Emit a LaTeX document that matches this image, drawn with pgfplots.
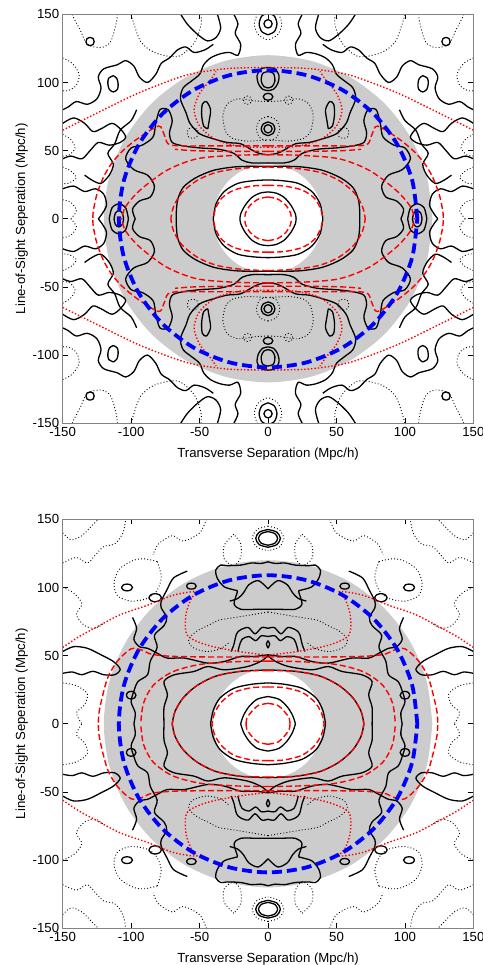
\documentclass[border=0pt]{standalone}
\usepackage{pgfplots}
\pgfplotsset{compat=1.18}
\usepackage{pgfplotstable}
\usepackage{fontspec}
\setmainfont{Liberation Sans}
\definecolor{ringgray}{RGB}{204,204,204}
\definecolor{frame}{RGB}{130,130,130}
\definecolor{cblue}{RGB}{0,0,255}
\definecolor{cred}{RGB}{255,0,0}
\tikzset{
 blk/.style={black, line width=1.3pt, smooth},
 blkd/.style={black, line width=0.9pt, dash pattern=on 0.9pt off 2.2pt, smooth},
 rdash/.style={cred, line width=1.4pt, dash pattern=on 6pt off 3pt, smooth},
 rdot/.style={cred, line width=1.4pt, dash pattern=on 1.4pt off 2pt, smooth},
 bdash/.style={cblue, line width=3.8pt, dash pattern=on 10pt off 5pt, smooth},
}
\newcommand{\mirror}[2]{%
  \addplot[#1] table {#2};
  \addplot[#1] table[x expr=-\thisrowno{0}] {#2};
  \addplot[#1] table[y expr=-\thisrowno{1}] {#2};
  \addplot[#1] table[x expr=-\thisrowno{0},y expr=-\thisrowno{1}] {#2};
}
% ---------- common circles ----------
\pgfplotstableread{
x y
120 0
115.91 31.06
103.92 60
84.85 84.85
60 103.92
31.06 115.91
0 120
-31.06 115.91
-60 103.92
-84.85 84.85
-103.92 60
-115.91 31.06
-120 0
-115.91 -31.06
-103.92 -60
-84.85 -84.85
-60 -103.92
-31.06 -115.91
0 -120
31.06 -115.91
60 -103.92
84.85 -84.85
103.92 -60
115.91 -31.06
120 0
}\DiskOuter
\pgfplotstableread{
x y
40 0
38.64 10.35
34.64 20
28.28 28.28
20 34.64
10.35 38.64
0 40
-10.35 38.64
-20 34.64
-28.28 28.28
-34.64 20
-38.64 10.35
-40 0
-38.64 -10.35
-34.64 -20
-28.28 -28.28
-20 -34.64
-10.35 -38.64
0 -40
10.35 -38.64
20 -34.64
28.28 -28.28
34.64 -20
38.64 -10.35
40 0
}\DiskInner
\pgfplotstableread{
x y
109 0
105.29 28.21
94.40 54.5
77.07 77.07
54.5 94.40
28.21 105.29
0 109
-28.21 105.29
-54.5 94.40
-77.07 77.07
-94.40 54.5
-105.29 28.21
-109 0
-105.29 -28.21
-94.40 -54.5
-77.07 -77.07
-54.5 -94.40
-28.21 -105.29
0 -109
28.21 -105.29
54.5 -94.40
77.07 -77.07
94.40 -54.5
105.29 -28.21
109 0
}\BlueCirc
% ---------- top panel ----------
\pgfplotstableread{
x y
0 19.7
6 18.8
12 15.5
17 9.5
20 3.5
20.5 0
}\TcA
\pgfplotstableread{
x y
0 28.5
10 28
22 26
32 20
38 11
40 0
}\TcB
\pgfplotstableread{
x y
0 38.5
12 38.5
25 38
40 35.5
53 30
62 23
66 14
67 5
67 0
}\TcC
\pgfplotstableread{
x y
0 41
12 41
19 43
25 48
36 51
50 52
62 53.5
70 56
72 63
70 72
73 80
79 80
82 70
84 60
92 54
100 52
104 44
98 36
88 32
83 24
86 16
94 13
99 7
97 0
}\TcD
\pgfplotstableread{
x y
0 47
6 47.8
11 50
20 55
30 56
40 58.7
50 62.4
57 70
60 78
64 88
62 96
56 101
50 106
47 113
42 118
35 121
28 122
22 120
20 128
24 136
22 143
25 150
}\TcE
\pgfplotstableread{
x y
44 66
47 68
48.5 76
48 84
45 86
42 80
43 72
44 66
}\TcF
\pgfplotstableread{
x y
0 146
2.1 145.1
3 143
2.1 140.9
0 140
}\TrA
\pgfplotstableread{
x y
0 151
4.6 148.7
6.5 143
4.6 137.3
0 135
}\TrB
\pgfplotstableread{
x y
0 155
7 151
10 143
7 135
0 131
}\TrC
\pgfplotstableread{
x y
0 69
2.1 68.1
3 66
2.1 63.9
0 63
}\TrD
\pgfplotstableread{
x y
0 71
3.5 69.5
5 66
3.5 62.5
0 61
}\TrE
\pgfplotstableread{
x y
0 75
6 72.5
8.5 66
6 59.5
0 57
}\TrF
\pgfplotstableread{
x y
0 92
2.5 91.3
3.5 89.5
2.5 87.7
0 87
}\TrG
\pgfplotstableread{
x y
0 111
5 110
8 105
7 99
4 95
0 94
}\TrH
\pgfplotstableread{
x y
0 108
4 106.5
5 101
3 97
0 96
}\TrHi
\pgfplotstableread{
x y
105.5 0
106.5 4.2
109 6
111.5 4.2
112.5 0
}\TrI
\pgfplotstableread{
x y
102 0
104 8
109 11
114 8
116 0
}\TrJ
\pgfplotstableread{
x y
113 105
116.5 103
117 99
116 95
113 93
110 95
109.5 99
110.5 103
113 105
}\TlA
\pgfplotstableread{
x y
130 133
132.2 132.2
133 130
132.2 127.8
130 127
127.8 127.8
127 130
127.8 132.2
130 133
}\TlB
\pgfplotstableread{
x y
40 128
46 124
54 122
60 126
66 124
72 118
78 114
82 106
88 100
94 104
98 112
104 116
110 113
120 110
124 104
122 96
125 88
132 84
140 86
146 82
150 80
}\TlC
\pgfplotstableread{
x y
150 70
142 74
134 70
128 64
122 66
114 70
108 66
104 60
108 56
116 54
124 56
130 50
136 44
144 46
150 44
}\TlD
\pgfplotstableread{
x y
150 22
142 24
134 20
126 22
120 18
118 10
121 4
124 0
}\TlE
\pgfplotstableread{
x y
37 150
34.6 140
38 133
44.3 130.5
51.6 135.4
58.9 142.7
63.8 150
}\TlF
\pgfplotstableread{
x y
96 80
100 72
108 65
112 55
117 48
113 40
116 32
122 26
128 28
134 32
}\TlH
\pgfplotstableread{
x y
0 86
10 86.5
22 88
30 84
33 75
31 64
26 59
15 57
0 58
}\TdA
\pgfplotstableread{
x y
55 67
58 66
59 63
58 60
55 59
52 60
51 63
52 66
55 67
}\TdB
\pgfplotstableread{
x y
15 90
17.1 89.1
18 87
17.1 84.9
15 84
12.9 84.9
12 87
12.9 89.1
15 90
}\TdC
\pgfplotstableread{
x y
49 150
49 142
54 129
66 119
83 122
93 130
98 143
100 150
}\TdD
\pgfplotstableread{
x y
110 150
111 143
115 130
122 125.6
132 128
137 138
142 147.5
143 150
}\TdE
\pgfplotstableread{
x y
150 118
143 114
138 106
140 98
146 94
150 94
}\TdF
\pgfplotstableread{
x y
150 38
144 35
140 30
146 26
150 26
}\TdG
\pgfplotstableread{
x y
150 14
144 12
140 6
144 0
}\TdH
\pgfplotstableread{
x y
150 62
144 58
141 52
145 47
150 46
}\TdJ
\pgfplotstableread{
x y
150 65
120 80
93 93
61 105
40 109
25 110.5
0 111
}\TqA
\pgfplotstableread{
x y
0 52.5
20 53
38 58
50 68
54 80
50 92
42 102
38 108
}\TqB
\pgfplotstableread{
x y
0 16
7 14.5
13 10
16.5 4
17 0
}\TrdA
\pgfplotstableread{
x y
0 24.5
12 24
25 21
34 15
38.5 7
40 0
}\TrdB
\pgfplotstableread{
x y
0 38
20 37
38 34
52 28
63 19
69 9
71 0
}\TrdC
\pgfplotstableread{
x y
0 47
25 46.5
52 44
74 35.5
93.5 21
104 9
107 0
}\TrdD
\pgfplotstableread{
x y
0 53.5
40 53.5
65 53.5
73 55
76 62
80 68
95 59
106 50
114 41
120 31
125 18
127.6 6
128 0
}\TrdE
\pgfplotstableread{
x y
0 49.5
30 49.5
55 50
68 51
}\TrdF
% ---------- bottom panel ----------
\pgfplotstableread{
x y
0 20
8 18
14 12.5
18 6
20 0
}\BcA
\pgfplotstableread{
x y
0 30
12 29
25 26
35 19
40 10
42 0
}\BcB
\pgfplotstableread{
x y
0 39.5
20 38.5
38 35
52 28
62 19
68 9
70 0
}\BcC
\pgfplotstableread{
x y
0 50.6
10 49.4
20 49.4
32 45.7
44 44.5
61 48.2
73.5 48.2
81 51.8
88 55.4
94 56.6
98 62
96 70
99 78
}\BcD
\pgfplotstableread{
x y
0 50
5 46
15 42
32 39.6
44 42
54 38.4
68.7 35.9
76 31
73.5 21.4
76 12
76 0
}\BcE
\pgfplotstableread{
x y
59 112
69 107
74 98
78 90
78 85
74 78
76 72
83 65
81 56
86 46
88 36
95 31
98 24
100 16
97 8
98 0
}\BcF
\pgfplotstableread{
x y
150 53
142 56.6
132 55.4
122 50.6
113 45.7
108 40
112 36
120 36
128 38.5
136 36
143 38
150 37
}\BcG
\pgfplotstableread{
x y
0 118.8
5.4 117.6
12 118
20 116.4
30 116
34.6 116.4
38.2 112.8
37 106.6
32 100.5
24 98
22.4 96.9
24.8 88
20 84
8 84
0 84
}\BcCr
\pgfplotstableread{
x y
0 99
7 105
14 102
18 96
22 92
28 90
}\BcCi
\pgfplotstableread{
x y
0 70
4.6 70.6
9.5 66
14.4 70.6
20 69
23 66
25 58
27 53
}\BcM
\pgfplotstableread{
x y
0 64
5 64.5
9 61
14 64
19 62
21 57
22 53
}\BcMi
\pgfplotstableread{
x y
0 61
1.2 58.5
0 55.5
}\BcS
\pgfplotstableread{
x y
107 100
105.8 101.8
103 102.5
100.2 101.8
99 100
100.2 98.2
103 97.5
105.8 98.2
107 100
}\BlA
\pgfplotstableread{
x y
87 92.5
85.7 94.6
82.5 95.5
79.3 94.6
78 92.5
79.3 90.4
82.5 89.5
85.7 90.4
87 92.5
}\BlB
\pgfplotstableread{
x y
59.5 101
58.5 102.6
56 103.2
53.5 102.6
52.5 101
53.5 99.4
56 98.8
58.5 99.4
59.5 101
}\BlC
\pgfplotstableread{
x y
103.5 21
102.5 23
100 23.8
97.5 23
96.5 21
97.5 19
100 18.2
102.5 19
103.5 21
}\BlD
\pgfplotstableread{
x y
0 141
5 139.5
7 136
5 132.5
0 131
}\BrA
\pgfplotstableread{
x y
0 142.5
6.4 140.6
9 136
6.4 131.4
0 129.5
}\BrB
\pgfplotstableread{
x y
0 145
8 142.5
11.5 136
8 129.5
0 127
}\BrC
\pgfplotstableread{
x y
150 140
144 135
136 138
128 146
124 150
}\BdA
\pgfplotstableread{
x y
81 119
90 121
98 120
108 114
112.5 104
110 94
100 90
88 92
81 98
78 108
81 119
}\BdB
\pgfplotstableread{
x y
25 139
32 131
32 121
25 116
20 122
20 132
25 139
}\BdC
\pgfplotstableread{
x y
150 100
142 96
136 88
140 80
134 72
126 70
120 74
}\BdD
\pgfplotstableread{
x y
150 30
140 28
132 22
134 14
140 8
136 0
}\BdE
\pgfplotstableread{
x y
0 82
12 80
24 78
36 76
44 72
52 68
58 62
55 56
45 53
35 55
28 60
}\BdF
\pgfplotstableread{
x y
150 118
140 122
132 118
126 124
120 130
112 132
106 140
104 150
}\BdG
\pgfplotstableread{
x y
45 150
50 140
62 134
70 138
80 132
84 124
}\BdI
\pgfplotstableread{
x y
150 56
138 64
127 70
108 80
88 87
69 94.4
52 97
56 92
60 80
59 65
44 57.6
20 52.8
0 50.4
}\BqA
\pgfplotstableread{
x y
0 15
7 13.5
12 9
15.5 4
16 0
}\BrdA
\pgfplotstableread{
x y
0 27
12 26.5
25 23
34 16
39 8
41 0
}\BrdB
\pgfplotstableread{
x y
0 39
20 38.5
38 35
52 28
62 19
68 9
70 0
}\BrdC
\pgfplotstableread{
x y
0 46
25 45.5
50 43.5
70 38
84 28
91 15
93 0
}\BrdD
\pgfplotstableread{
x y
0 49
40 49
70 49.5
85 51
92 54
100 55
110 46
117 34
121 20
123.5 8
124 0
}\BrdE
\pgfplotsset{
  panel/.style={
    width=410.7pt, height=409pt, scale only axis,
    xmin=-150, xmax=150, ymin=-150, ymax=150,
    xtick={-150,-100,...,150}, ytick={-150,-100,...,150},
    tick align=inside, major tick length=5pt,
    axis line style={frame, line width=1.2pt},
    major tick style={black, line width=0.8pt},
    /pgf/number format/assume math mode=true,
    tick label style={font=\fontsize{13.2}{15}\selectfont},
    label style={font=\fontsize{13.2}{15}\selectfont},
    xlabel={Transverse Separation (Mpc/h)},
    ylabel={Line-of-Sight Seperation (Mpc/h)},
    xlabel style={yshift=-5pt},
    ylabel style={yshift=-2pt},
    axis on top,
  }
}
\begin{document}
\begin{tikzpicture}
% ================= TOP =================
\begin{axis}[panel, at={(0pt,0pt)}, anchor=south west]
\addplot[fill=ringgray, draw=none, smooth] table {\DiskOuter};
\addplot[fill=white, draw=none, smooth] table {\DiskInner};
\mirror{blk}{\TcA}
\mirror{blk}{\TcB}
\mirror{blk}{\TcC}
\mirror{blk}{\TcD}
\mirror{blk}{\TcE}
\mirror{blk}{\TcF}
\mirror{blk}{\TrA}
\mirror{blk}{\TrB}
\mirror{blkd}{\TrC}
\mirror{blk}{\TrD}
\mirror{blk}{\TrE}
\mirror{blkd}{\TrF}
\mirror{blk}{\TrG}
\mirror{blk}{\TrH}
\mirror{blk}{\TrHi}
\mirror{blk}{\TrI}
\mirror{blk}{\TrJ}
\mirror{blk}{\TlA}
\mirror{blk}{\TlB}
\mirror{blk}{\TlC}
\mirror{blk}{\TlD}
\mirror{blk}{\TlE}
\mirror{blk}{\TlF}
\mirror{blk}{\TlH}
\mirror{blkd}{\TdA}
\mirror{blkd}{\TdB}
\mirror{blkd}{\TdC}
\mirror{blkd}{\TdD}
\mirror{blkd}{\TdE}
\mirror{blkd}{\TdF}
\mirror{blkd}{\TdG}
\mirror{blkd}{\TdH}
\mirror{blkd}{\TdJ}
\mirror{rdot}{\TqA}
\mirror{rdot}{\TqB}
\mirror{rdash}{\TrdA}
\mirror{rdash}{\TrdB}
\mirror{rdash}{\TrdC}
\mirror{rdash}{\TrdD}
\mirror{rdash}{\TrdE}
\mirror{rdash}{\TrdF}
\addplot[bdash] table {\BlueCirc};
\end{axis}
% ================= BOTTOM =================
\begin{axis}[panel, at={(0pt,-505pt)}, anchor=south west]
\addplot[fill=ringgray, draw=none, smooth] table {\DiskOuter};
\addplot[fill=white, draw=none, smooth] table {\DiskInner};
\mirror{blk}{\BcA}
\mirror{blk}{\BcB}
\mirror{blk}{\BcC}
\mirror{blk}{\BcD}
\mirror{blk}{\BcE}
\mirror{blk}{\BcF}
\mirror{blk}{\BcG}
\mirror{blk}{\BcCr}
\mirror{blk}{\BcCi}
\mirror{blk}{\BcM}
\mirror{blk}{\BcMi}
\mirror{blk}{\BcS}
\mirror{blk}{\BlA}
\mirror{blk}{\BlB}
\mirror{blk}{\BlC}
\mirror{blk}{\BlD}
\mirror{blk}{\BrA}
\mirror{blk}{\BrB}
\mirror{blkd}{\BrC}
\mirror{blkd}{\BdA}
\mirror{blkd}{\BdB}
\mirror{blkd}{\BdC}
\mirror{blkd}{\BdD}
\mirror{blkd}{\BdE}
\mirror{blkd}{\BdF}
\mirror{blkd}{\BdG}
\mirror{blkd}{\BdI}
\mirror{rdot}{\BqA}
\mirror{rdash}{\BrdA}
\mirror{rdash}{\BrdB}
\mirror{rdash}{\BrdC}
\mirror{rdash}{\BrdD}
\mirror{rdash}{\BrdE}
\addplot[bdash] table {\BlueCirc};
\end{axis}
\pgfresetboundingbox
\path (-62.7pt,-541.7pt) rectangle (419.3pt,423.3pt);
\end{tikzpicture}
\end{document}
